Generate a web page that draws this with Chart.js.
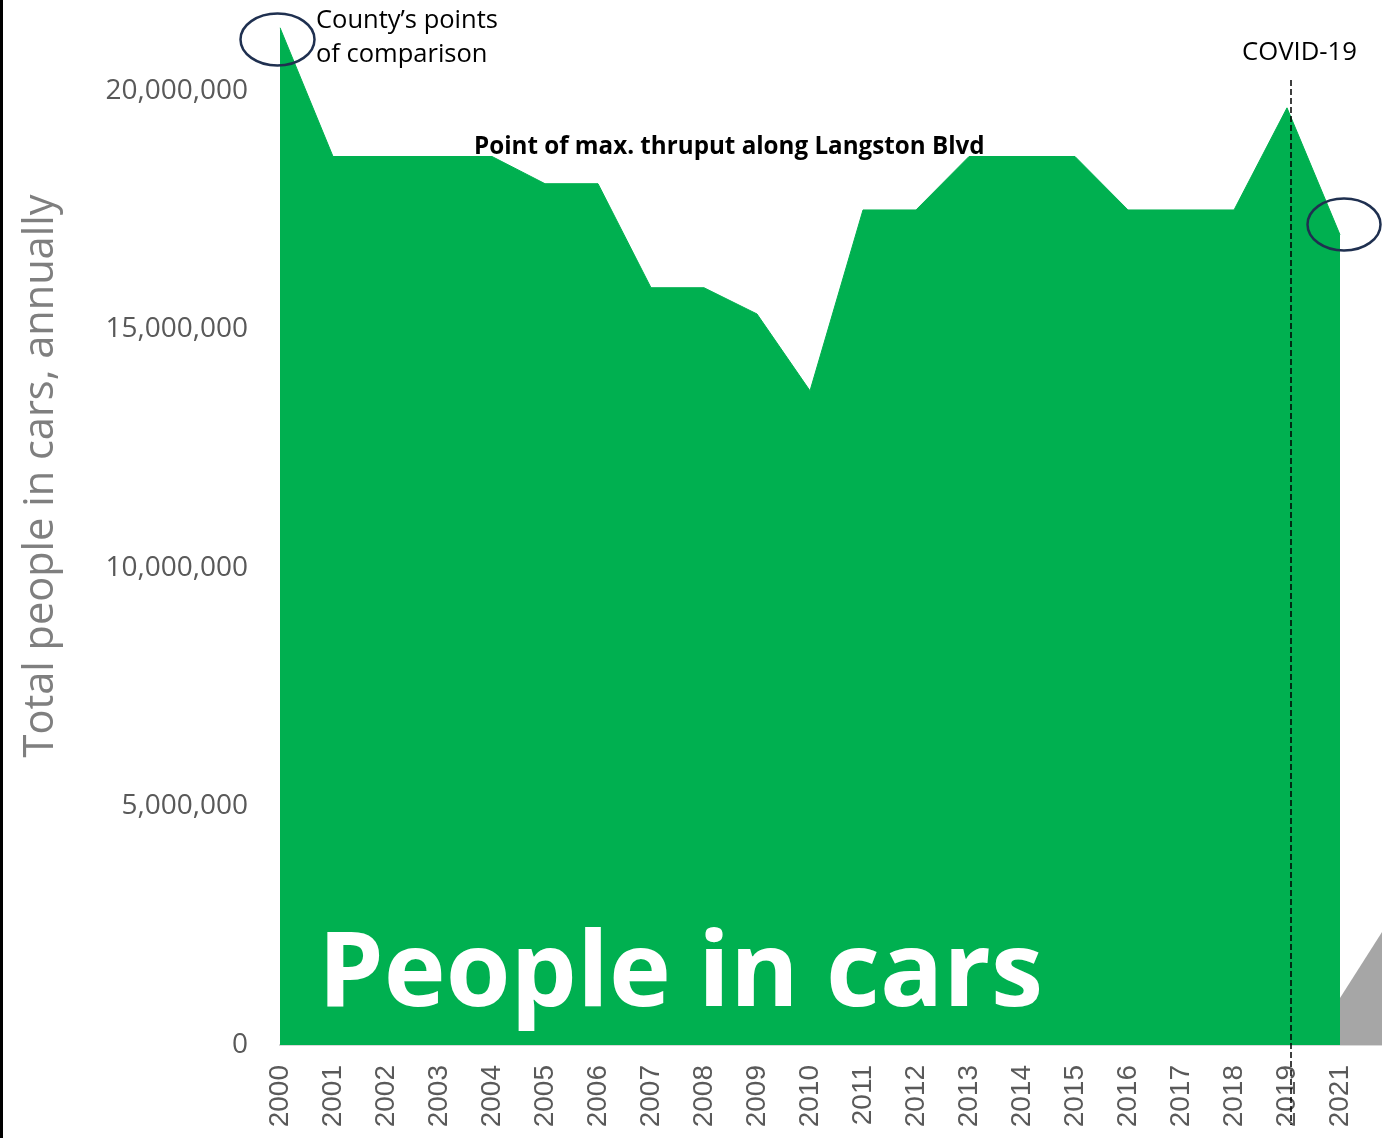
<!DOCTYPE html>
<html><head><meta charset="utf-8">
<script src="https://cdn.jsdelivr.net/npm/chart.js@4.4.1/dist/chart.umd.min.js"></script>
<style>
html,body{margin:0;padding:0;background:#fff;overflow:hidden;width:1382px;height:1138px}
#wrap{position:absolute;left:0;top:0;width:1400px;height:1138px}
</style>
</head><body><div id="wrap"><canvas id="c" width="1400" height="1138"></canvas></div>
<script>
// Category labels (2020 absent in source; last empty slot carries the cut-off grey series)
const years = ['2000','2001','2002','2003','2004','2005','2006','2007','2008','2009','2010',
  '2011','2012','2013','2014','2015','2016','2017','2018','2019','2021',''];
// Total people in cars, annually
const peopleInCars = [21320000,18620000,18620000,18620000,18620000,18050000,18050000,15870000,
  15870000,15320000,13710000,17500000,17500000,18620000,18620000,18620000,17500000,17500000,
  17500000,19640000,16980000,null];
// Partially visible grey series at the right edge
const otherMode = [null,null,null,null,null,null,null,null,null,null,null,null,null,null,null,
  null,null,null,null,null,985000,2730000];
const yTickValues = [0,5000000,10000000,15000000,20000000];

function fmt(v){return String(v).replace(/\B(?=(\d{3})+(?!\d))/g, ',');}

function fitText(ctx, text, weight, family, width){
  ctx.font = weight + ' 100px "' + family + '"';
  const w = ctx.measureText(text).width;
  const size = 100 * width / w;
  ctx.font = weight + ' ' + size.toFixed(2) + 'px "' + family + '"';
}

const annot = {
  id: 'annot',
  afterDraw(chart){
    const ctx = chart.ctx;
    const xs = chart.scales.x;
    ctx.save();
    // left black border
    ctx.fillStyle = '#000';
    ctx.fillRect(0, 0, 3, chart.height);
    // COVID dashed line
    const xd = xs.getPixelForValue(19) + 4;
    ctx.strokeStyle = '#000'; ctx.lineWidth = 1.5; ctx.setLineDash([6,3]);
    ctx.beginPath(); ctx.moveTo(xd, 80); ctx.lineTo(xd, 1125); ctx.stroke();
    ctx.setLineDash([]);
    // ellipses
    ctx.strokeStyle = '#1f3050'; ctx.lineWidth = 2.5;
    ctx.beginPath(); ctx.ellipse(277.5, 39.5, 37, 26, 0, 0, Math.PI*2); ctx.stroke();
    ctx.beginPath(); ctx.ellipse(1344, 224.5, 36.5, 26, 0, 0, Math.PI*2); ctx.stroke();
    // texts
    ctx.fillStyle = '#000'; ctx.textAlign = 'left'; ctx.textBaseline = 'middle';
    fitText(ctx, 'County\u2019s points', 'normal', 'Open Sans', 182);
    ctx.fillText('County\u2019s points', 316, 21);
    ctx.fillText('of comparison', 316, 55);
    fitText(ctx, 'COVID-19', 'normal', 'Open Sans', 115);
    ctx.fillText('COVID-19', 1242, 53);
    fitText(ctx, 'Point of max. thruput along Langston Blvd', 'bold', 'Open Sans', 511);
    ctx.fillText('Point of max. thruput along Langston Blvd', 474, 147);
    ctx.fillStyle = '#fff'; ctx.textBaseline = 'alphabetic';
    fitText(ctx, 'People in cars', 'bold', 'Open Sans', 725);
    ctx.fillText('People in cars', 318, 1006);
    // y axis title
    ctx.translate(41, 476); ctx.rotate(-Math.PI/2);
    ctx.fillStyle = '#7f7f7f'; ctx.textAlign = 'center'; ctx.textBaseline = 'middle';
    fitText(ctx, 'Total people in cars, annually', 'normal', 'Open Sans', 563);
    ctx.fillText('Total people in cars, annually', 0, 0);
    ctx.restore();
  }
};

new Chart(document.getElementById('c'), {
  type: 'line',
  data: {
    labels: years,
    datasets: [
      {data: peopleInCars, backgroundColor: '#00b050', borderColor: '#00b050', borderWidth: 1,
       fill: 'origin', pointRadius: 0, tension: 0, spanGaps: false, order: 2},
      {data: otherMode, backgroundColor: '#a6a6a6', borderColor: '#a6a6a6', borderWidth: 0,
       fill: 'origin', pointRadius: 0, tension: 0, spanGaps: false, order: 1}
    ]
  },
  options: {
    responsive: false, animation: false,
    layout: {padding: {left: 0, right: 7, top: 0, bottom: 0}},
    plugins: {legend: {display: false}, tooltip: {enabled: false}, title: {display: false}},
    scales: {
      x: {
        type: 'category', offset: false,
        grid: {display: false, drawTicks: false},
        border: {display: true, color: '#d9d9d9', width: 2},
        ticks: {autoSkip: false, maxRotation: 90, minRotation: 90, color: '#595959',
                font: {family: 'Liberation Sans', size: 28}, padding: 20},
        afterFit(s){ s.height = 93; s.paddingLeft = 0; s.paddingRight = 0; }
      },
      y: {
        min: 0, max: 21900000,
        grid: {display: false, drawTicks: false},
        border: {display: false},
        ticks: {color: '#595959', font: {family: 'Open Sans', size: 28}, padding: 32,
                callback: v => fmt(v)},
        afterBuildTicks(s){ s.ticks = yTickValues.map(v => ({value: v})); },
        afterFit(s){ s.width = 280; s.paddingTop = 0; s.paddingBottom = 0; }
      }
    }
  },
  plugins: [annot]
});
</script>
</body></html>
